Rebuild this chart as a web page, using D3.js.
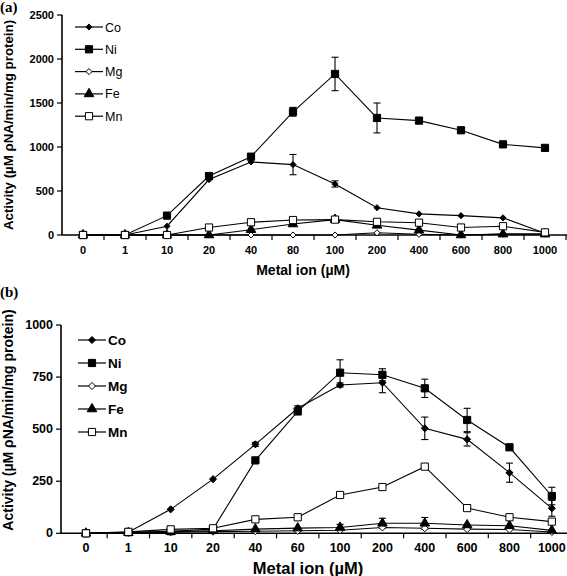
<!DOCTYPE html>
<html><head><meta charset="utf-8">
<script src="https://cdn.jsdelivr.net/npm/d3@7"></script>
<style>body{margin:0;background:#fff}svg{display:block}</style>
</head><body><svg id="c" width="567" height="576"></svg>
<script>
// ---- Panel (a) data ----
const catsA = ["0","1","10","20","40","80","100","200","400","600","800","1000"];
const aCo = [0,0,100,630,830,800,580,310,240,220,195,20];
const aNi = [0,0,220,670,890,1400,1830,1330,1300,1190,1030,990];
const aMg = [0,0,0,0,0,0,0,25,8,0,10,10];
const aFe = [0,0,0,0,60,125,175,110,55,0,10,10];
const aMn = [0,0,0,85,145,170,175,150,140,85,100,30];
const aCoErr = [0,0,0,0,0,115,35,0,0,0,0,0];
const aNiErr = [0,0,0,0,0,50,190,170,0,0,0,0];
const ticksA = [0,500,1000,1500,2000,2500];

// ---- Panel (b) data ----
const catsB = ["0","1","10","20","40","60","100","200","400","600","800","1000"];
const bCo = [0,5,115,260,427,600,712,723,504,451,291,120];
const bNi = [0,5,10,20,350,585,771,761,696,544,413,179];
const bMg = [0,2,5,8,10,12,15,28,24,20,18,6];
const bFe = [0,3,8,12,20,25,28,48,48,40,36,14];
const bMn = [0,7,19,24,67,77,184,222,320,121,77,56];
const bCoErr = [0,0,0,0,10,12,10,48,54,32,46,38];
const bNiErr = [0,0,0,0,12,12,62,29,44,56,10,42];
const bFeErr = [0,0,0,0,0,0,15,24,28,0,0,0];
const ticksB = [0,250,500,750,1000];

const seriesNames = ["Co","Ni","Mg","Fe","Mn"];

const svg = d3.select("#c");
const SANS = 'Arial,"Liberation Sans",sans-serif';
const SERIF = '"Liberation Serif","Times New Roman",serif';
const DIAMOND = d3.symbolDiamond2 || d3.symbolDiamond;

function styles(dSize){
  return {
    Co:{type:DIAMOND,size:dSize,fill:"#000"},
    Ni:{type:d3.symbolSquare,size:52,fill:"#000"},
    Mg:{type:DIAMOND,size:dSize,fill:"#fff"},
    Fe:{type:d3.symbolTriangle,size:40,fill:"#000"},
    Mn:{type:d3.symbolSquare,size:52,fill:"#fff"}
  };
}

function panel(cfg){
  const style = styles(cfg.dSize);
  const g = svg.append("g").style("font-family",SANS);
  const x = d3.scaleBand().domain(cfg.cats).range(cfg.xr);
  const y = d3.scaleLinear().domain([0,cfg.ymax]).range(cfg.yr);
  const cx = c => x(c)+x.bandwidth()/2;
  g.append("line").attr("x1",cfg.axisX).attr("x2",cfg.xr[1]+2).attr("y1",y(0)).attr("y2",y(0)).attr("stroke","#000").attr("stroke-width",1.6);
  g.append("line").attr("x1",cfg.axisX).attr("x2",cfg.axisX).attr("y1",y(cfg.ymax)).attr("y2",y(0)).attr("stroke","#000").attr("stroke-width",1.6);
  cfg.cats.forEach((c,i)=>{
    if(i>0) g.append("line").attr("x1",x(c)).attr("x2",x(c)).attr("y1",y(0)).attr("y2",y(0)+5).attr("stroke","#000").attr("stroke-width",1.2);
    g.append("text").attr("x",cx(c)).attr("y",cfg.xLabY).attr("text-anchor","middle")
      .attr("font-size",cfg.tickFs).attr("font-weight","bold").text(c);
  });
  g.append("line").attr("x1",cfg.xr[1]).attr("x2",cfg.xr[1]).attr("y1",y(0)).attr("y2",y(0)+5).attr("stroke","#000").attr("stroke-width",1.2);
  cfg.yticks.forEach(t=>{
    g.append("line").attr("x1",cfg.axisX-5).attr("x2",cfg.axisX).attr("y1",y(t)).attr("y2",y(t)).attr("stroke","#000").attr("stroke-width",1.2);
    g.append("text").attr("x",cfg.axisX-8).attr("y",y(t)+4).attr("text-anchor","end")
      .attr("font-size",cfg.tickFs).attr("font-weight","bold").text(t);
  });
  g.append("text").attr("x",cfg.xTitleX).attr("y",cfg.xTitleY).attr("text-anchor","middle")
    .attr("font-size",cfg.titleFs).attr("font-weight","bold").text("Metal ion (µM)");
  g.append("text").attr("transform",`translate(${cfg.yTitleX},${cfg.yTitleY}) rotate(-90)`).attr("text-anchor","middle")
    .attr("font-size",cfg.yTitleFs).attr("font-weight","bold").text("Activity (µM ρNA/min/mg protein)");
  g.append("text").attr("x",0).attr("y",cfg.panelLabY).style("font-family",SERIF)
    .attr("font-size",15).attr("font-weight","bold").text(cfg.label);
  const line = d3.line().x((d,i)=>cx(cfg.cats[i])).y(d=>y(d));
  seriesNames.forEach(n=>{
    g.append("path").attr("d",line(cfg.data[n])).attr("fill","none").attr("stroke","#000").attr("stroke-width",1.1);
  });
  Object.keys(cfg.errs).forEach(n=>{
    const vals = cfg.data[n], errs = cfg.errs[n];
    errs.forEach((e,i)=>{
      if(!e) return;
      const xx = cx(cfg.cats[i]);
      g.append("line").attr("x1",xx).attr("x2",xx).attr("y1",y(vals[i]-e)).attr("y2",y(vals[i]+e)).attr("stroke","#000").attr("stroke-width",1.1);
      [vals[i]-e, vals[i]+e].forEach(v=>g.append("line").attr("x1",xx-3.5).attr("x2",xx+3.5).attr("y1",y(v)).attr("y2",y(v)).attr("stroke","#000").attr("stroke-width",1.1));
    });
  });
  seriesNames.forEach(n=>{
    const vals = cfg.data[n], s = style[n];
    vals.forEach((v,i)=>{
      g.append("path").attr("d",d3.symbol().type(s.type).size(s.size)())
        .attr("transform",`translate(${cx(cfg.cats[i])},${y(v)})`)
        .attr("fill",s.fill).attr("stroke","#000").attr("stroke-width",1);
    });
  });
  seriesNames.forEach((n,i)=>{
    const ly = cfg.legY + i*cfg.legDy, s = style[n];
    g.append("line").attr("x1",cfg.legX).attr("x2",cfg.legX+28).attr("y1",ly).attr("y2",ly).attr("stroke","#000").attr("stroke-width",1.2);
    g.append("path").attr("d",d3.symbol().type(s.type).size(s.size)()).attr("transform",`translate(${cfg.legX+14},${ly})`)
      .attr("fill",s.fill).attr("stroke","#000").attr("stroke-width",1);
    g.append("text").attr("x",cfg.legX+30).attr("y",ly+4.5).attr("font-size",cfg.legFs).attr("font-weight",cfg.legW).text(n);
  });
}

panel({cats:catsA, xr:[62,566], ymax:2500, yr:[235,15], axisX:62, yticks:ticksA, dSize:24,
  data:{Co:aCo,Ni:aNi,Mg:aMg,Fe:aFe,Mn:aMn}, errs:{Co:aCoErr,Ni:aNiErr},
  xLabY:254, tickFs:11, titleFs:14, xTitleX:303, xTitleY:275, yTitleX:13, yTitleY:125, yTitleFs:13.3,
  panelLabY:12, label:"(a)", legX:75, legY:27, legDy:22.3, legFs:12.5, legW:"normal"});

panel({cats:catsB, xr:[64.8,573], ymax:1000, yr:[533.3,325], axisX:61, yticks:ticksB, dSize:32,
  data:{Co:bCo,Ni:bNi,Mg:bMg,Fe:bFe,Mn:bMn}, errs:{Co:bCoErr,Ni:bNiErr,Fe:bFeErr},
  xLabY:552, tickFs:12.5, titleFs:16.5, xTitleX:308, xTitleY:574, yTitleX:13, yTitleY:420, yTitleFs:14,
  panelLabY:297, label:"(b)", legX:78, legY:340, legDy:23, legFs:13.5, legW:"bold"});
</script></body></html>
